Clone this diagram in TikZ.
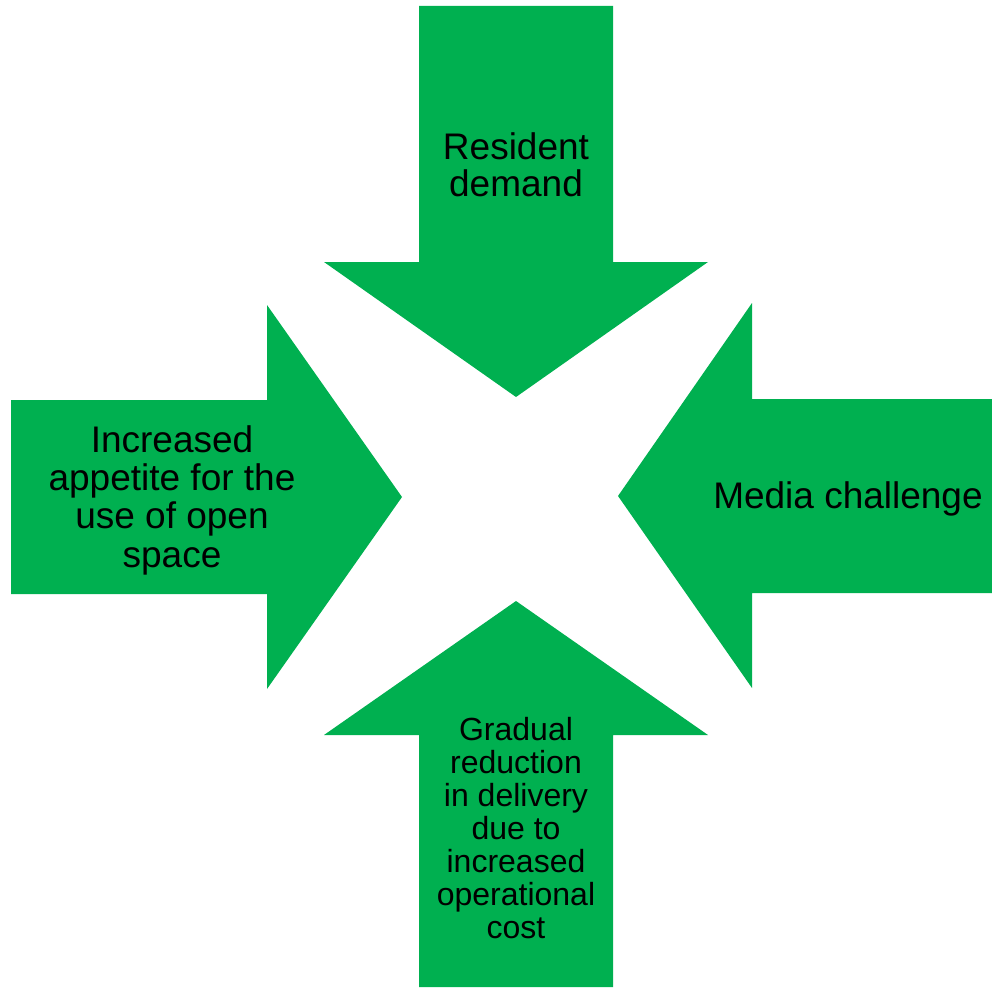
\documentclass[tikz,border=0pt]{standalone}
\usepackage{fontspec}
\setmainfont{Liberation Sans}
\definecolor{arrowgreen}{RGB}{0,176,80}
\tikzset{
  block/.style={fill=arrowgreen},
  arrowtext/.style={inner sep=0pt, align=center, font=\fontsize{37}{38.3}\selectfont},
  smalltext/.style={arrowtext, font=\fontsize{32}{33}\selectfont}
}
\begin{document}
\begin{tikzpicture}[x=1pt,y=-1pt]
\useasboundingbox (0,0) rectangle (992,987);

% top arrow, pointing down
\fill[block] (419,6) -- (613,6) -- (613,262) -- (708,262) -- (516,397)
  -- (324,262) -- (419,262) -- cycle;
% bottom arrow, pointing up
\fill[block] (419,987) -- (613,987) -- (613,735) -- (708,735) -- (516,601)
  -- (324,735) -- (419,735) -- cycle;
% left arrow, pointing right
\fill[block] (11,400) -- (267,400) -- (267,305) -- (402,497) -- (267,689)
  -- (267,594) -- (11,594) -- cycle;
% right arrow, pointing left
\fill[block] (992,399) -- (752,399) -- (752,303) -- (618,496) -- (752,688)
  -- (752,593) -- (992,593) -- cycle;

\node[arrowtext, font=\fontsize{37}{37}\selectfont] (resident) at (516,165) {Resident\\demand};
\node[arrowtext] (appetite) at (172,500) {Increased\\appetite for the\\use of open\\space};
\node[arrowtext] (media) at (848,498.5) {Media challenge};
\node[smalltext] (delivery) at (516,828.5) {Gradual\\reduction\\in delivery\\due to\\increased\\operational\\cost};
\end{tikzpicture}
\end{document}
